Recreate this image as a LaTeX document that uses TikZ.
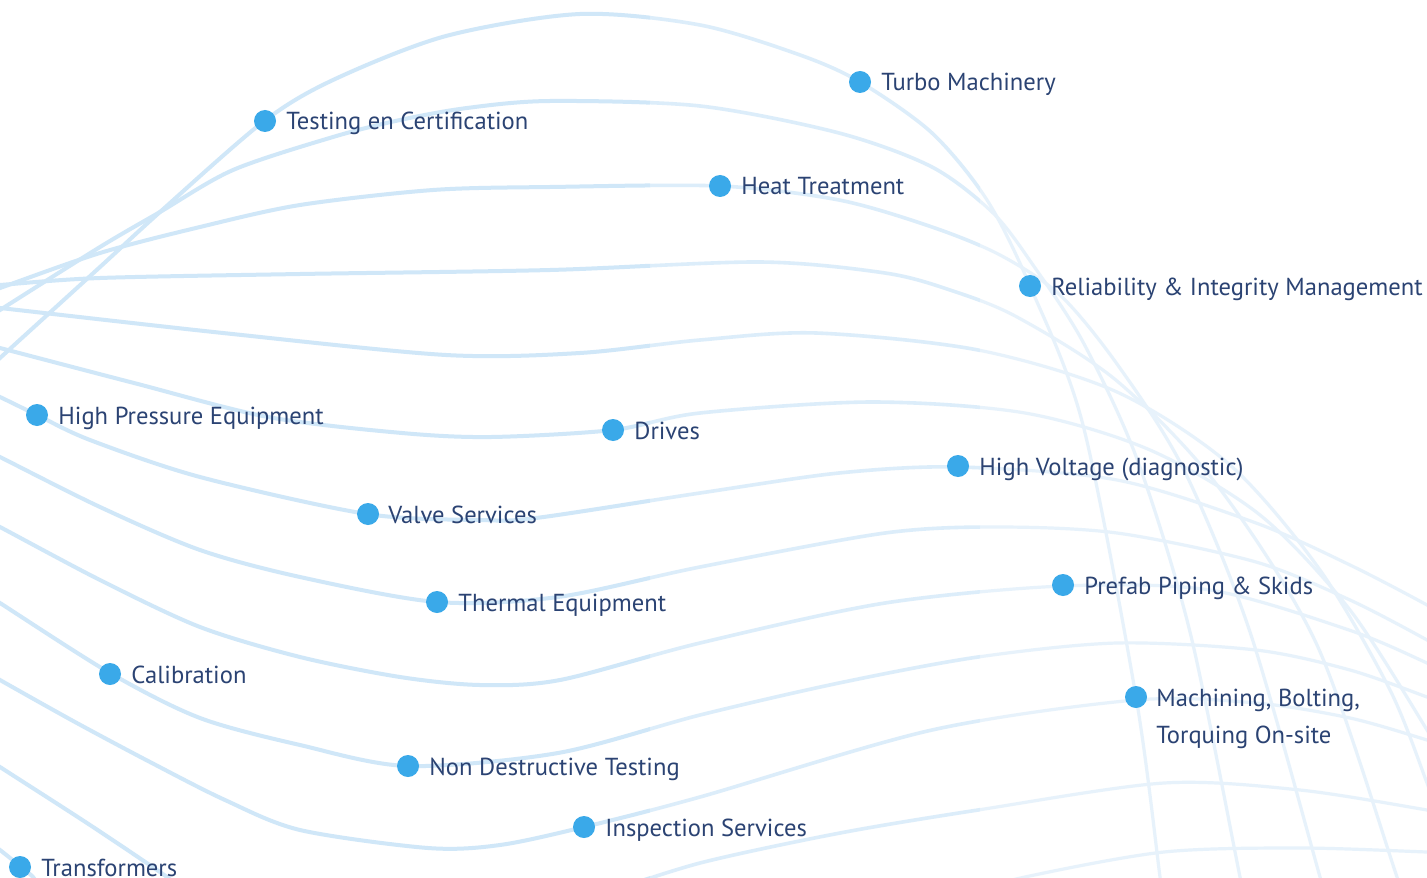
\documentclass[tikz,border=0pt]{standalone}
\usepackage{fontspec}
\setmainfont{PT Sans}
\definecolor{lineA}{HTML}{D0E7F8}
\definecolor{lineB}{HTML}{DCEDFA}
\definecolor{lineC}{HTML}{E7F2FB}
\definecolor{dotblue}{HTML}{3AA9E9}
\definecolor{navy}{HTML}{2B4373}
\tikzset{
  dotnode/.style={circle, fill=dotblue, minimum size=11pt, inner sep=0pt},
  lbl/.style={anchor=base west, inner sep=0pt, text=navy, font=\fontsize{12.3}{14}\selectfont},
}
\newcommand\allwaves[1]{%
  \draw[#1] plot[smooth] coordinates {(-20,377) (0,358) (100,267) (160,212) (263,122) (333,80) (446,36) (580,14) (700,25) (800,55) (860,82) (932,133) (987,200) (1030,286) (1083,425) (1136,697) (1160,877) (1163,900)};
  \draw[#1] plot[smooth] coordinates {(-20,323) (0,310) (100,247) (160,212) (233,170) (333,137) (400,120) (467,108) (550,101) (700,106) (839,133) (932,167) (993,213) (1033,265) (1083,342) (1137,459) (1190,632) (1240,877) (1245,900)};
  \draw[#1] plot[smooth] coordinates {(-20,295) (0,288) (100,253) (200,227) (300,205) (433,190) (550,187) (720,186) (839,200) (932,227) (1000,255) (1060,295) (1117,364) (1183,468) (1250,632) (1320,877) (1326,900)};
  \draw[#1] plot[smooth] coordinates {(-20,287) (0,285) (100,278) (300,274) (550,270) (760,262) (885,273) (950,290) (1017,317) (1117,381) (1217,485) (1317,645) (1397,877) (1405,900)};
  \draw[#1] plot[smooth] coordinates {(-20,306) (0,308) (223,333) (446,355) (580,353) (700,340) (816,333) (978,350) (1117,392) (1230,465) (1320,570) (1390,690) (1427,783) (1440,820)};
  \draw[#1] plot[smooth] coordinates {(-20,343) (0,348) (134,383) (268,417) (402,433) (491,437) (613,430) (700,413) (872,402) (1025,413) (1150,450) (1260,515) (1350,610) (1427,730) (1440,755)};
  \draw[#1] plot[smooth] coordinates {(-20,388) (0,397) (37,415) (90,440) (200,477) (367,514) (480,520) (536,518) (700,493) (839,473) (958,467) (1117,480) (1256,523) (1350,565) (1427,605) (1450,620)};
  \draw[#1] plot[smooth] coordinates {(-20,447) (0,457) (100,507) (200,550) (300,577) (437,602) (558,597) (700,567) (885,533) (997,527) (1117,533) (1256,562) (1350,600) (1427,640) (1450,655)};
  \draw[#1] plot[smooth] coordinates {(-20,517) (0,527) (100,580) (200,627) (300,657) (400,677) (480,685) (560,680) (700,643) (885,603) (1063,586) (1210,590) (1349,630) (1427,663) (1450,675)};
  \draw[#1] plot[smooth] coordinates {(-20,590) (0,603) (110,673) (200,718) (300,745) (408,766) (558,753) (700,715) (839,683) (978,657) (1117,643) (1256,650) (1350,670) (1427,697) (1450,706)};
  \draw[#1] plot[smooth] coordinates {(-20,668) (0,680) (75,722) (150,762) (225,800) (300,830) (428,848) (500,845) (584,827) (700,797) (932,730) (1136,700) (1256,703) (1350,718) (1427,740) (1450,748)};
  \draw[#1] plot[smooth] coordinates {(-10,760) (0,767) (90,825) (167,877) (180,890)};
  \draw[#1] plot[smooth] coordinates {(-10,843) (0,850) (20,866) (33,877) (40,888)};
  \draw[#1] plot[smooth] coordinates {(600,895) (700,863) (840,833) (978,810) (1164,783) (1300,790) (1427,810) (1450,815)};
  \draw[#1] plot[smooth] coordinates {(940,900) (1025,877) (1164,852) (1300,848) (1427,852) (1450,853)};
}
\begin{document}
\begin{tikzpicture}[x=0.5pt,y=-0.5pt]
\useasboundingbox (0,0) rectangle (1427,877);
\fill[white] (0,0) rectangle (1427,877);
\clip (0,0) rectangle (1427,877);
\begin{scope}
  \clip (-50,-50) rectangle (650,950);
  \allwaves{lineA, line width=2pt, line cap=round}
\end{scope}
\begin{scope}
  \clip (650,-50) rectangle (980,950);
  \allwaves{lineB, line width=1.8pt, line cap=round}
\end{scope}
\begin{scope}
  \clip (980,-50) rectangle (1500,950);
  \allwaves{lineC, line width=1.6pt, line cap=round}
\end{scope}
% dots
\node[dotnode] (turbo) at (860,82) {};
\node[dotnode] (testing) at (265,121) {};
\node[dotnode] (heat) at (720,186) {};
\node[dotnode] (reli) at (1030,286) {};
\node[dotnode] (hpe) at (37,415) {};
\node[dotnode] (drives) at (613,430) {};
\node[dotnode] (hv) at (958,466) {};
\node[dotnode] (valve) at (368,514) {};
\node[dotnode] (thermal) at (437,602) {};
\node[dotnode] (prefab) at (1063,585) {};
\node[dotnode] (calib) at (110,674) {};
\node[dotnode] (mach) at (1136,697) {};
\node[dotnode] (ndt) at (408,766) {};
\node[dotnode] (insp) at (584,827) {};
\node[dotnode] (trans) at (20,867) {};
% labels
\node[lbl] (turboL) at (881,91) {Turbo Machinery};
\node[lbl] (testingL) at (286,130) {Testing en Certification};
\node[lbl] (heatL) at (741,195) {Heat Treatment};
\node[lbl] (reliL) at (1051,295) {Reliability \& Integrity Management};
\node[lbl] (hpeL) at (58,424) {High Pressure Equipment};
\node[lbl] (drivesL) at (634,439) {Drives};
\node[lbl] (hvL) at (979,475) {High Voltage (diagnostic)};
\node[lbl] (valveL) at (388,523) {Valve Services};
\node[lbl] (thermalL) at (458,611) {Thermal Equipment};
\node[lbl] (prefabL) at (1084,594) {Prefab Piping \& Skids};
\node[lbl] (calibL) at (131,683) {Calibration};
\node[lbl] (machL) at (1156,706) {Machining, Bolting,};
\node[lbl] (machL2) at (1156,743) {Torquing On-site};
\node[lbl] (ndtL) at (429,775) {Non Destructive Testing};
\node[lbl] (inspL) at (605,836) {Inspection Services};
\node[lbl] (transL) at (41,876) {Transformers};
\end{tikzpicture}
\end{document}
